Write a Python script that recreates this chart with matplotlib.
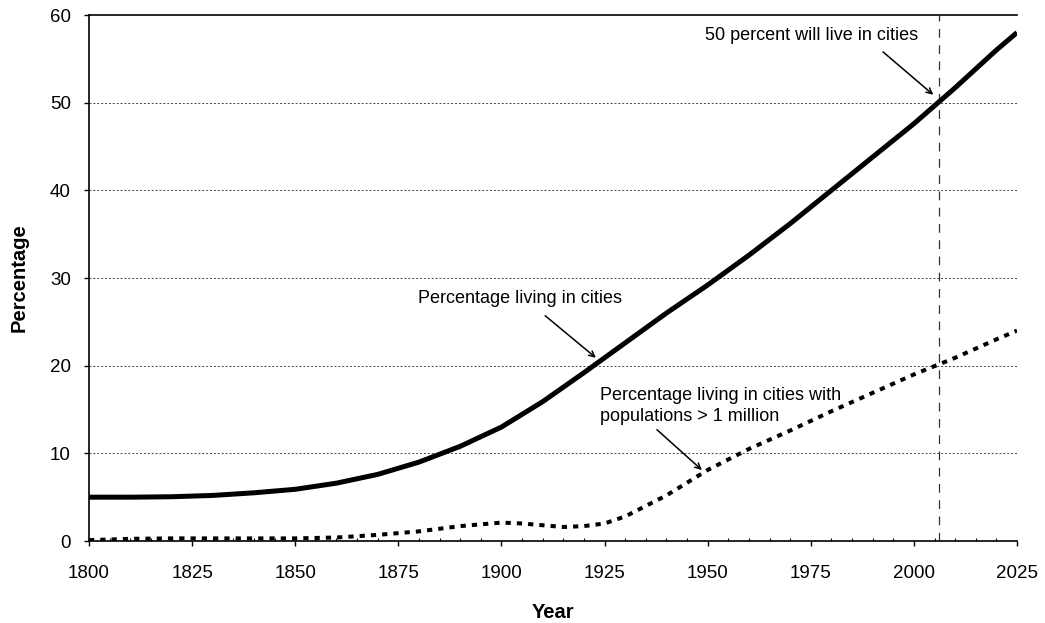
import matplotlib.pyplot as plt
import numpy as np

plt.rcParams['font.family'] = ['Liberation Sans', 'DejaVu Sans']

# data
years_all = [1800, 1810, 1820, 1830, 1840, 1850, 1860, 1870, 1880, 1890, 1900,
             1910, 1920, 1930, 1940, 1950, 1960, 1970, 1980, 1990, 2000,
             2010, 2020, 2025]
pct_cities = [5.0, 5.0, 5.05, 5.2, 5.5, 5.9, 6.6, 7.6, 9.0, 10.8, 13.0,
              15.9, 19.2, 22.6, 26.0, 29.2, 32.6, 36.2, 40.0, 43.8, 47.6,
              51.7, 56.0, 58.0]

years_million = [1800, 1810, 1820, 1830, 1840, 1850, 1860, 1870, 1880, 1890,
                 1900, 1905, 1910, 1915, 1920, 1925, 1930, 1935, 1940, 1950,
                 1960, 1970, 1980, 1990, 2000, 2010, 2020, 2025]
pct_million = [0.1, 0.25, 0.3, 0.3, 0.3, 0.3, 0.4, 0.7, 1.1, 1.7,
               2.1, 2.0, 1.8, 1.6, 1.7, 2.0, 2.8, 4.0, 5.2, 8.1,
               10.5, 12.6, 14.8, 16.9, 19.0, 20.9, 23.0, 24.0]

half_year = 2006
x_ticks = [1800, 1825, 1850, 1875, 1900, 1925, 1950, 1975, 2000, 2025]
y_ticks = [0, 10, 20, 30, 40, 50, 60]

fig = plt.figure(figsize=(10.45, 6.23), dpi=100)
ax = fig.add_axes([0.0852, 0.1316, 0.888, 0.8443])

for y in y_ticks[1:-1]:
    ax.axhline(y, color='#444444', lw=0.7, linestyle=(0, (2, 2)), zorder=1)
ax.axvline(half_year, color='#333333', lw=0.9, linestyle=(0, (7, 6)), zorder=1)

ax.plot(years_all, pct_cities, color='black', lw=3.6, solid_capstyle='butt', zorder=3)
ax.plot(years_million, pct_million, color='black', lw=2.9,
        linestyle=(0, (1.3, 1.5)), dash_capstyle='butt', zorder=3)

ax.set_xlim(1800, 2025)
ax.set_ylim(0, 60)
ax.set_xticks(x_ticks)
ax.set_yticks(y_ticks)
ax.set_xticks(np.arange(1800, 2026, 5), minor=True)
ax.tick_params(axis='both', labelsize=13.5, direction='out', length=3.6, width=1)
ax.tick_params(axis='x', which='minor', direction='in', length=2, width=0.8)
ax.tick_params(axis='x', which='major', pad=13.5)
ax.tick_params(axis='y', pad=9.5)
ax.spines['right'].set_visible(False)
for s in ['left', 'bottom', 'top']:
    ax.spines[s].set_linewidth(1.2)

ax.set_xlabel('Year', fontsize=14.5, fontweight='bold', labelpad=15)
ax.set_ylabel('Percentage', fontsize=14.5, fontweight='bold', labelpad=15)

arrow = dict(arrowstyle='->', color='black', lw=1.1, shrinkA=0, shrinkB=0)
ax.annotate('50 percent will live in cities', xy=(2004.7, 50.9), xytext=(1975.3, 57.7),
            fontsize=13, ha='center', va='center')
ax.annotate('', xy=(2004.7, 50.9), xytext=(1992.5, 55.8), arrowprops=arrow)

ax.annotate('Percentage living in cities', xy=(1922.9, 20.9), xytext=(1904.4, 27.7),
            fontsize=13, ha='center', va='center')
ax.annotate('', xy=(1922.9, 20.9), xytext=(1910.6, 25.7), arrowprops=arrow)

ax.annotate('Percentage living in cities with\npopulations > 1 million',
            xy=(1948.6, 8.1), xytext=(1923.9, 15.4),
            fontsize=13, ha='left', va='center', linespacing=1.3)
ax.annotate('', xy=(1948.6, 8.1), xytext=(1937.7, 12.7), arrowprops=arrow)

fig.savefig('out.png', dpi=100)
